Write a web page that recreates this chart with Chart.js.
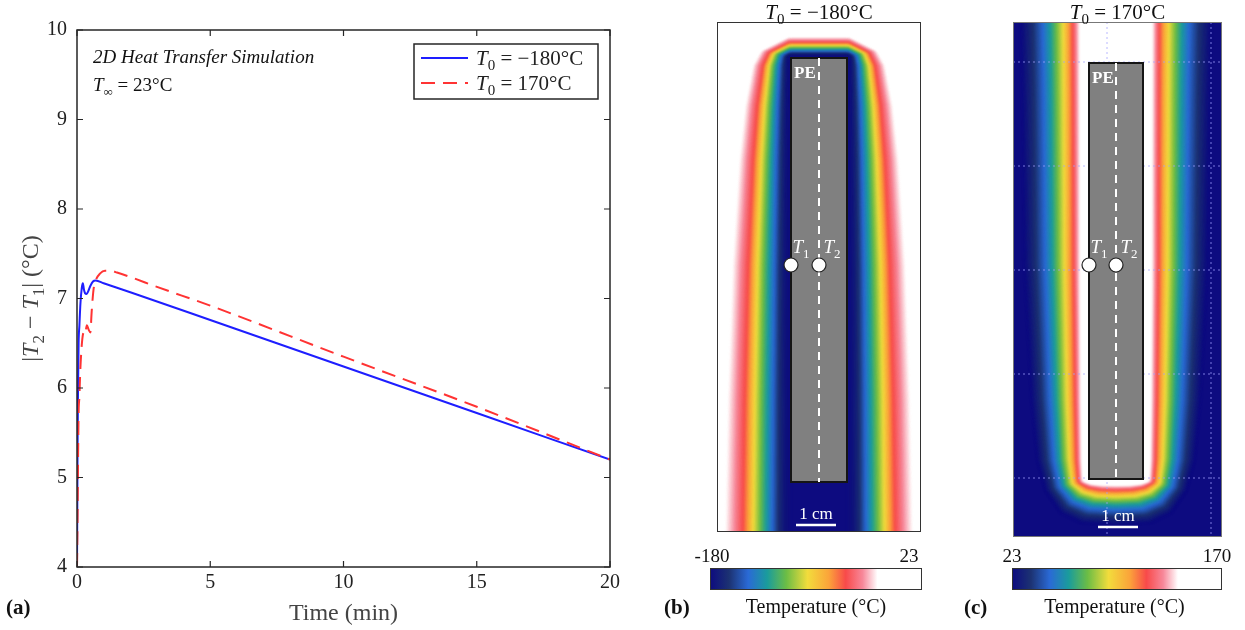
<!DOCTYPE html>
<html>
<head>
<meta charset="utf-8">
<script src="https://cdn.jsdelivr.net/npm/chart.js@4.4.1/dist/chart.umd.min.js"></script>
<style>
  html, body { margin: 0; padding: 0; background: #fff; width: 1245px; height: 630px; overflow: hidden; }
  canvas { position: absolute; top: 0; }
</style>
</head>
<body>
<canvas id="chartA" style="left:0px" width="640" height="630"></canvas>
<canvas id="chartB" style="left:650px" width="290" height="630"></canvas>
<canvas id="chartC" style="left:945px" width="300" height="630"></canvas>
<script>
// ---- panel (a): |T2 - T1| vs time ----
const timeBlue = [0, 0.01, 0.02, 0.04, 0.06, 0.09, 0.13, 0.18, 0.22, 0.26, 0.3, 0.36, 0.42, 0.5, 0.6, 0.7, 1, 2, 5, 10, 15, 20];
const diffBlue = [4.0, 4.6, 5.3, 6.0, 6.5, 6.7, 6.95, 7.12, 7.17, 7.1, 7.06, 7.05, 7.08, 7.14, 7.19, 7.2, 7.17, 7.07, 6.76, 6.24, 5.72, 5.2];
const timeRed = [0, 0.02, 0.04, 0.06, 0.09, 0.12, 0.16, 0.2, 0.25, 0.3, 0.37, 0.44, 0.5, 0.55, 0.62, 0.7, 0.87, 1.05, 1.25, 1.5, 2, 3, 5, 10, 15, 20];
const diffRed = [4.0, 4.5, 5.2, 5.72, 5.9, 6.17, 6.4, 6.55, 6.62, 6.6, 6.7, 6.65, 6.62, 6.85, 7.1, 7.2, 7.28, 7.31, 7.31, 7.29, 7.24, 7.13, 6.92, 6.35, 5.79, 5.2];
const xTicksA = [0, 5, 10, 15, 20];
const yTicksA = [4, 5, 6, 7, 8, 9, 10];

// ---- panels (b) and (c): temperature fields (mm, centre of PE strip = 0, y down from frame top) ----
// outline of the far edge of the thermal layer and the matching points on the PE strip
const bOuterX = [0, 7.5, 14.5, 16.5, 18.5, 20, 21.75, 23, 23.75];
const bOuterY = [4, 4, 7.5, 11, 21, 34.5, 60.75, 94.5, 131];
const bInnerX = [0, 7, 7, 7, 7, 7, 7, 7, 7];
const bInnerY = [9, 9, 9, 11, 21, 34.5, 60.75, 94.5, 131];
const bLevelS = [0, 0.11, 0.18, 0.28, 0.37, 0.46, 0.56, 0.64, 0.72, 0.86, 1];
const bLevelC = [0, 0.03, 0.08, 0.18, 0.27, 0.36, 0.46, 0.56, 0.64, 0.73, 0.80];

const cOuterX = [0, 23.75, 23.25, 22.75, 21, 19.5, 17.5, 13.75, 8.75, 0];
const cOuterY = [-5, -5, 19.5, 60.75, 94.5, 109.5, 117, 122.5, 125, 125.5];
const cInnerX = [0, 6.75, 6.75, 6.75, 6.75, 6.75, 6.75, 5, 2.5, 0];
const cInnerY = [-5, -5, 19.5, 60.75, 94.5, 109.5, 114.25, 114.25, 114.25, 114.25];
const cLevelS = [0, 0.13, 0.24, 0.38, 0.48, 0.57, 0.68, 0.84, 1];
const cLevelC = [1, 0.80, 0.64, 0.46, 0.36, 0.27, 0.18, 0.08, 0];
const cGridX = [-2.25, 23.75];
const cGridY = [10, 36, 62, 88, 114];

const sensorY = 60.75;
const bColorbarTicks = ['-180', '23'];
const cColorbarTicks = ['23', '170'];

// colormap (fraction along colorbar -> colour)
const cmapPos = [0, 0.09, 0.18, 0.27, 0.36, 0.46, 0.56, 0.64, 0.72, 0.79, 1];
const cmapCol = ['#0d0b80', '#1c3272', '#2a6ad6', '#1a9c9c', '#6cbd45', '#f2dc3c', '#fba43a', '#f84a4a', '#f7889a', '#ffffff', '#ffffff'];

const SERIF = '"Liberation Serif", "DejaVu Serif", serif';

function hexRgb(h) {
  return [parseInt(h.slice(1, 3), 16), parseInt(h.slice(3, 5), 16), parseInt(h.slice(5, 7), 16)];
}
function interp(xs, ys, v) {
  if (v <= xs[0]) return ys[0];
  for (let i = 1; i < xs.length; i++) {
    if (v <= xs[i]) {
      const f = (v - xs[i - 1]) / (xs[i] - xs[i - 1]);
      return ys[i - 1] + f * (ys[i] - ys[i - 1]);
    }
  }
  return ys[ys.length - 1];
}
function cmap(v) {
  v = Math.max(0, Math.min(1, v));
  for (let i = 1; i < cmapPos.length; i++) {
    if (v <= cmapPos[i]) {
      const f = (v - cmapPos[i - 1]) / (cmapPos[i] - cmapPos[i - 1]);
      const a = hexRgb(cmapCol[i - 1]), b = hexRgb(cmapCol[i]);
      return 'rgb(' + a.map((c, k) => Math.round(c + f * (b[k] - c))).join(',') + ')';
    }
  }
  return cmapCol[cmapCol.length - 1];
}

// text with italic / subscript pieces, y is the baseline
function drawRich(ctx, parts, x, y, size, color, align, bold) {
  const fontOf = p => (p.i ? 'italic ' : '') + (bold ? 'bold ' : '') + Math.round(p.sub ? size * 0.7 : size) + 'px ' + SERIF;
  let w = 0;
  parts.forEach(p => { ctx.font = fontOf(p); w += ctx.measureText(p.t).width; });
  let cx = align === 'center' ? x - w / 2 : (align === 'right' ? x - w : x);
  ctx.fillStyle = color;
  ctx.textAlign = 'left';
  ctx.textBaseline = 'alphabetic';
  parts.forEach(p => {
    ctx.font = fontOf(p);
    ctx.fillText(p.t, cx, y + (p.sub ? size * 0.25 : 0));
    cx += ctx.measureText(p.t).width;
  });
}

// ---------------- panel (a) ----------------
const toPts = (xs, ys) => xs.map((x, i) => ({ x: x, y: ys[i] }));

const frameA = {
  id: 'frameA',
  afterDraw(chart) {
    const { ctx, chartArea: a, scales: { x, y } } = chart;
    ctx.save();
    ctx.strokeStyle = '#262626';
    ctx.lineWidth = 1.5;
    ctx.strokeRect(a.left, a.top, a.right - a.left, a.bottom - a.top);
    ctx.lineWidth = 1.2;
    ctx.beginPath();
    xTicksA.forEach(v => {
      const px = x.getPixelForValue(v);
      ctx.moveTo(px, a.bottom); ctx.lineTo(px, a.bottom - 6);
      ctx.moveTo(px, a.top); ctx.lineTo(px, a.top + 6);
    });
    yTicksA.forEach(v => {
      const py = y.getPixelForValue(v);
      ctx.moveTo(a.left, py); ctx.lineTo(a.left + 6, py);
      ctx.moveTo(a.right, py); ctx.lineTo(a.right - 6, py);
    });
    ctx.stroke();

    // annotation
    ctx.font = 'italic 19px ' + SERIF;
    ctx.fillStyle = '#111';
    ctx.textAlign = 'left';
    ctx.textBaseline = 'alphabetic';
    ctx.fillText('2D Heat Transfer Simulation', 93, 63);
    drawRich(ctx, [{ t: 'T', i: 1 }, { t: '∞', sub: 1 }, { t: ' = 23°C' }], 93, 91, 19, '#111', 'left');

    // legend
    ctx.strokeStyle = '#262626';
    ctx.lineWidth = 1.5;
    ctx.fillStyle = '#fff';
    ctx.fillRect(414, 44, 184, 55);
    ctx.strokeRect(414, 44, 184, 55);
    const ds = chart.data.datasets;
    [[0, 58], [1, 83]].forEach(([i, ly]) => {
      ctx.strokeStyle = ds[i].borderColor;
      ctx.lineWidth = 2;
      ctx.setLineDash(ds[i].borderDash || []);
      ctx.beginPath(); ctx.moveTo(421, ly); ctx.lineTo(468, ly); ctx.stroke();
      ctx.setLineDash([]);
    });
    drawRich(ctx, [{ t: 'T', i: 1 }, { t: '0', sub: 1 }, { t: ' = −180°C' }], 476, 65, 21, '#222', 'left');
    drawRich(ctx, [{ t: 'T', i: 1 }, { t: '0', sub: 1 }, { t: ' = 170°C' }], 476, 90, 21, '#222', 'left');

    // y title
    ctx.save();
    ctx.translate(38, (a.top + a.bottom) / 2);
    ctx.rotate(-Math.PI / 2);
    drawRich(ctx, [{ t: '|' }, { t: 'T', i: 1 }, { t: '2', sub: 1 }, { t: ' − ' }, { t: 'T', i: 1 }, { t: '1', sub: 1 }, { t: '| (°C)' }], 0, 0, 24, '#444', 'center');
    ctx.restore();

    ctx.font = 'bold 21px ' + SERIF;
    ctx.fillStyle = '#111';
    ctx.fillText('(a)', 6, 614);
    ctx.restore();
  }
};

new Chart(document.getElementById('chartA'), {
  type: 'line',
  data: {
    datasets: [
      { label: 'T0 = -180°C', data: toPts(timeBlue, diffBlue), borderColor: '#1e1eff', borderWidth: 2, pointRadius: 0, order: 1, cubicInterpolationMode: 'monotone' },
      { label: 'T0 = 170°C', data: toPts(timeRed, diffRed), borderColor: '#ff3333', borderWidth: 2, borderDash: [14, 8], pointRadius: 0, order: 0, cubicInterpolationMode: 'monotone' }
    ]
  },
  options: {
    responsive: false,
    animation: false,
    devicePixelRatio: 1,
    layout: { padding: { left: 0, right: 30, top: 30, bottom: 0 } },
    plugins: { legend: { display: false }, tooltip: { enabled: false } },
    scales: {
      x: {
        type: 'linear', min: 0, max: 20,
        afterBuildTicks: s => { s.ticks = xTicksA.map(v => ({ value: v })); },
        afterFit: s => { s.height = 63; },
        grid: { display: false, drawTicks: false, tickLength: 0 }, border: { display: false },
        ticks: { font: { family: SERIF, size: 20 }, color: '#222', padding: 4, maxRotation: 0 },
        title: { display: true, text: 'Time (min)', font: { family: SERIF, size: 24 }, color: '#444', padding: { top: 0, bottom: 2 } }
      },
      y: {
        type: 'linear', min: 4, max: 10,
        afterBuildTicks: s => { s.ticks = yTicksA.map(v => ({ value: v })); },
        afterFit: s => { s.width = 77; },
        grid: { display: false, drawTicks: false, tickLength: 0 }, border: { display: false },
        ticks: { font: { family: SERIF, size: 20 }, color: '#222', padding: 10 }
      }
    }
  },
  plugins: [frameA]
});

// ---------------- panels (b), (c) ----------------
const fieldPlugin = {
  id: 'field',
  beforeDatasetsDraw(chart, args, o) {
    const { ctx, chartArea: a, scales: { x, y } } = chart;
    const X = v => x.getPixelForValue(v), Y = v => y.getPixelForValue(v);
    ctx.save();
    ctx.beginPath();
    ctx.rect(a.left, a.top, a.right - a.left, a.bottom - a.top);
    ctx.clip();
    ctx.fillStyle = o.background;
    ctx.fillRect(a.left, a.top, a.right - a.left, a.bottom - a.top);
    ctx.filter = 'blur(1.5px)';
    const N = 80;
    for (let k = N; k >= 0; k--) {
      const s = k / N;
      ctx.fillStyle = cmap(interp(o.levelS, o.levelC, s));
      const pts = o.outerX.map((ox, i) => [o.innerX[i] + s * (ox - o.innerX[i]), o.innerY[i] + s * (o.outerY[i] - o.innerY[i])]);
      ctx.beginPath();
      pts.forEach((p, i) => (i ? ctx.lineTo(X(p[0]), Y(p[1])) : ctx.moveTo(X(p[0]), Y(p[1]))));
      for (let i = pts.length - 1; i >= 0; i--) ctx.lineTo(X(-pts[i][0]), Y(pts[i][1]));
      ctx.closePath();
      ctx.fill();
    }
    ctx.filter = 'none';
    // dotted grid
    ctx.strokeStyle = 'rgba(160,160,255,0.75)';
    ctx.lineWidth = 1;
    ctx.setLineDash([2, 3]);
    ctx.beginPath();
    o.gridX.forEach(v => { ctx.moveTo(X(v), a.top); ctx.lineTo(X(v), a.bottom); });
    o.gridY.forEach(v => { ctx.moveTo(a.left, Y(v)); ctx.lineTo(a.right, Y(v)); });
    ctx.stroke();
    ctx.setLineDash([]);
    // PE strip
    const b = o.bar;
    ctx.fillStyle = '#808080';
    ctx.fillRect(X(-b.half), Y(b.top), X(b.half) - X(-b.half), Y(b.bottom) - Y(b.top));
    ctx.strokeStyle = '#151515';
    ctx.lineWidth = 2;
    ctx.strokeRect(X(-b.half), Y(b.top), X(b.half) - X(-b.half), Y(b.bottom) - Y(b.top));
    ctx.restore();
  },
  afterDatasetsDraw(chart, args, o) {
    const { ctx, scales: { x, y } } = chart;
    const X = v => x.getPixelForValue(v), Y = v => y.getPixelForValue(v);
    const b = o.bar;
    ctx.save();
    ctx.font = 'bold 17px ' + SERIF;
    ctx.fillStyle = '#fff';
    ctx.textAlign = 'left';
    ctx.textBaseline = 'alphabetic';
    ctx.fillText('PE', X(-b.half) + 3, Y(b.top) + 20);
    drawRich(ctx, [{ t: 'T', i: 1 }, { t: '1', sub: 1 }], X(-b.half) + 10, Y(sensorY) - 12, 19, '#fff', 'center');
    drawRich(ctx, [{ t: 'T', i: 1 }, { t: '2', sub: 1 }], X(0) + 13, Y(sensorY) - 12, 19, '#fff', 'center');
    // scale bar
    const sb = o.scaleBar;
    ctx.strokeStyle = '#fff';
    ctx.lineWidth = 2.5;
    ctx.beginPath(); ctx.moveTo(X(sb[0]), Y(sb[2])); ctx.lineTo(X(sb[1]), Y(sb[2])); ctx.stroke();
    ctx.font = '17px ' + SERIF;
    ctx.textAlign = 'center';
    ctx.fillText('1 cm', (X(sb[0]) + X(sb[1])) / 2, Y(sb[2]) - 6);
    ctx.restore();
  },
  afterDraw(chart, args, o) {
    const { ctx, chartArea: a } = chart;
    const mid = (a.left + a.right) / 2;
    ctx.save();
    ctx.strokeStyle = o.frameColor;
    ctx.lineWidth = 1;
    ctx.strokeRect(a.left + 0.5, a.top + 0.5, a.right - a.left - 1, a.bottom - a.top - 1);
    drawRich(ctx, [{ t: 'T', i: 1 }, { t: '0', sub: 1 }, { t: ' = ' + o.title }], mid, a.top - 3, 21, '#111', 'center');
    // colorbar
    const l = a.left + o.cbInset[0], r = a.right + o.cbInset[1];
    const g = ctx.createLinearGradient(l, 0, r, 0);
    cmapPos.forEach((p, i) => g.addColorStop(p, cmapCol[i]));
    ctx.fillStyle = g;
    ctx.fillRect(l, 568, r - l, 22);
    ctx.strokeStyle = '#333';
    ctx.strokeRect(l + 0.5, 568.5, r - l - 1, 21);
    ctx.font = '19px ' + SERIF;
    ctx.fillStyle = '#111';
    ctx.textAlign = 'center';
    ctx.fillText(o.cbTicks[0], l + o.cbLabelDx[0], 562);
    ctx.fillText(o.cbTicks[1], r + o.cbLabelDx[1], 562);
    ctx.font = '20px ' + SERIF;
    ctx.fillText('Temperature (°C)', mid - 3, 613);
    ctx.font = 'bold 21px ' + SERIF;
    ctx.textAlign = 'left';
    ctx.fillText(o.letter, o.letterX, 614);
    ctx.restore();
  }
};

function panel(id, pad, xr, yr, opts) {
  new Chart(document.getElementById(id), {
    type: 'scatter',
    data: {
      datasets: [
        { data: [{ x: -opts.bar.half, y: sensorY }, { x: 0, y: sensorY }], pointRadius: 7, backgroundColor: '#fff', borderColor: '#222', borderWidth: 1.2 },
        { data: [{ x: 0, y: opts.bar.top }, { x: 0, y: opts.bar.bottom }], showLine: true, borderColor: '#fff', borderWidth: 2, borderDash: [8, 6], pointRadius: 0 }
      ]
    },
    options: {
      responsive: false,
      animation: false,
      devicePixelRatio: 1,
      layout: { padding: pad },
      plugins: { legend: { display: false }, tooltip: { enabled: false }, field: opts },
      scales: {
        x: { type: 'linear', min: xr[0], max: xr[1], display: false },
        y: { type: 'linear', min: yr[0], max: yr[1], reverse: true, display: false }
      }
    },
    plugins: [fieldPlugin]
  });
}

panel('chartB', { left: 67, right: 19, top: 22, bottom: 98 }, [-25.5, 25.5], [0, 127.5], {
  outerX: bOuterX, outerY: bOuterY, innerX: bInnerX, innerY: bInnerY,
  levelS: bLevelS, levelC: bLevelC, background: '#ffffff',
  bar: { half: 7, top: 9, bottom: 115 },
  gridX: [], gridY: [], scaleBar: [-5.75, 4.25, 125.75],
  frameColor: '#333', title: '−180°C', cbTicks: bColorbarTicks, cbInset: [-7, 1], cbLabelDx: [2, -13],
  letter: '(b)', letterX: 14
});

panel('chartC', { left: 68, right: 23, top: 22, bottom: 93 }, [-25.75, 26.5], [0, 128.75], {
  outerX: cOuterX, outerY: cOuterY, innerX: cInnerX, innerY: cInnerY,
  levelS: cLevelS, levelC: cLevelC, background: '#0d0b80',
  bar: { half: 6.75, top: 10.25, bottom: 114.25 },
  gridX: cGridX, gridY: cGridY, scaleBar: [-4.5, 5.5, 126.25],
  frameColor: '#777', title: '170°C', cbTicks: cColorbarTicks, cbInset: [-1, 0], cbLabelDx: [0, -5],
  letter: '(c)', letterX: 19
});
</script>
</body>
</html>
